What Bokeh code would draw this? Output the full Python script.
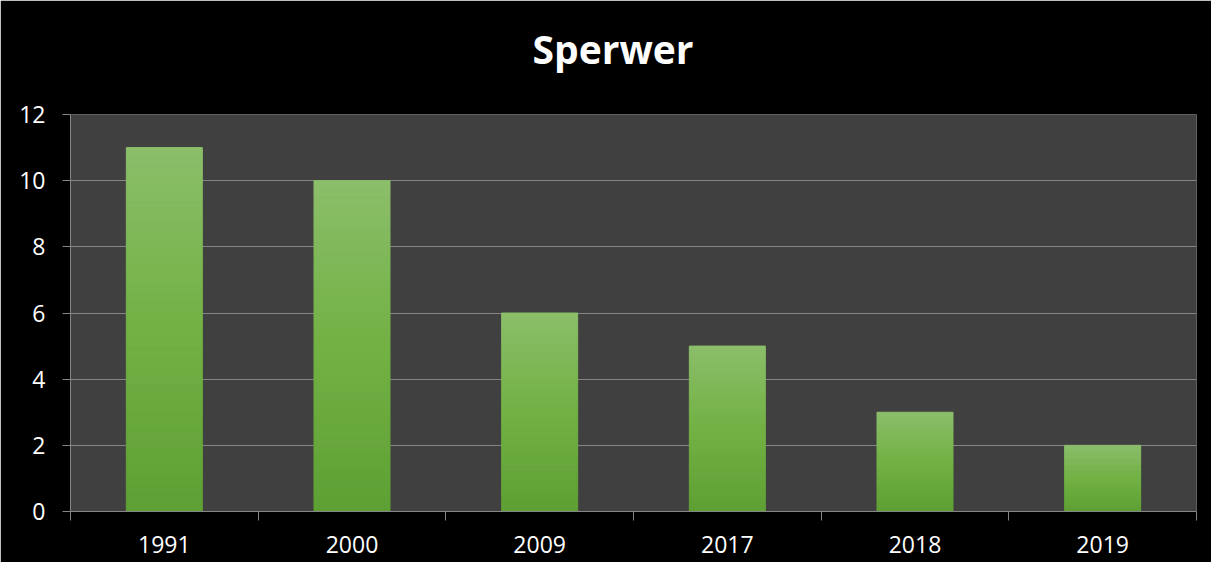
from bokeh.plotting import figure
from bokeh.models import FixedTicker, Range1d, Title
from bokeh.embed import file_html
from bokeh.resources import INLINE

# ---- data ----
years = ["1991", "2000", "2009", "2017", "2018", "2019"]
counts = [11, 10, 6, 5, 3, 2]
chart_title = "Sperwer"
y_ticks = [0, 2, 4, 6, 8, 10, 12]

# ---- style ----
FONT = "Open Sans"
GRID = "#858585"
BAR_W = 0.405
TOP_RGB = (139, 190, 106)
MID_RGB = (114, 177, 68)
BOT_RGB = (95, 160, 52)


def grad(t):
    # t = 0 bottom, 1 top
    if t < 0.5:
        a, b, u = BOT_RGB, MID_RGB, t / 0.5
    else:
        a, b, u = MID_RGB, TOP_RGB, (t - 0.5) / 0.5
    c = [round(a[i] + (b[i] - a[i]) * u) for i in range(3)]
    return "#%02x%02x%02x" % tuple(c)


p = figure(width=1211, height=562, output_backend="svg", toolbar_location=None,
           x_range=Range1d(0, len(years)), y_range=Range1d(0, max(y_ticks)),
           background_fill_color="#404040", border_fill_color="#000000",
           outline_line_color=None,
           min_border_left=70, min_border_right=15,
           min_border_top=114, min_border_bottom=51)

# spacer between title and frame
p.add_layout(Title(text=" ", text_font_size="1px", standoff=37,
                   text_color="#000000"), "above")

# title
p.title.text = chart_title
p.title.text_font = FONT
p.title.text_font_size = "39px"
p.title.text_font_style = "bold"
p.title.text_color = "#ffffff"
p.title.align = "left"
p.title.offset = 462
p.title.vertical_align = "bottom"
p.title.standoff = 0

# bars with vertical gradient, built from the values
N = 40
left, right, bottom, top, colors = [], [], [], [], []
for i, v in enumerate(counts):
    c = i + 0.5
    for k in range(N):
        left.append(c - BAR_W / 2)
        right.append(c + BAR_W / 2)
        bottom.append(v * k / N)
        top.append(v * (k + 1) / N)
        colors.append(grad((k + 0.5) / N))
p.quad(left=left, right=right, bottom=bottom, top=top,
       fill_color=colors, line_color=colors, line_width=1)

# x axis: labels at centres, ticks at category boundaries
centres = [i + 0.5 for i in range(len(years))]
p.xaxis.ticker = FixedTicker(ticks=centres, minor_ticks=list(range(len(years) + 1)))
p.xaxis.major_label_overrides = {c: y for c, y in zip(centres, years)}
p.xaxis.major_tick_line_color = None
p.xaxis.minor_tick_line_color = GRID
p.xaxis.minor_tick_in = 0
p.xaxis.minor_tick_out = 9
p.xaxis.axis_line_color = GRID
p.xaxis.major_label_text_font = FONT
p.xaxis.major_label_text_font_size = "23px"
p.xaxis.major_label_text_color = "#ffffff"
p.xaxis.major_label_standoff = 15

# y axis
p.yaxis.ticker = FixedTicker(ticks=y_ticks, minor_ticks=[])
p.yaxis.major_tick_line_color = GRID
p.yaxis.major_tick_in = 0
p.yaxis.major_tick_out = 8
p.yaxis.axis_line_color = GRID
p.yaxis.major_label_text_font = FONT
p.yaxis.major_label_text_font_size = "23px"
p.yaxis.major_label_text_color = "#ffffff"
p.yaxis.major_label_standoff = 17

p.xgrid.grid_line_color = None
p.ygrid.grid_line_color = GRID
p.ygrid.ticker = FixedTicker(ticks=y_ticks)

open("out.html", "w").write(file_html(p, INLINE))
